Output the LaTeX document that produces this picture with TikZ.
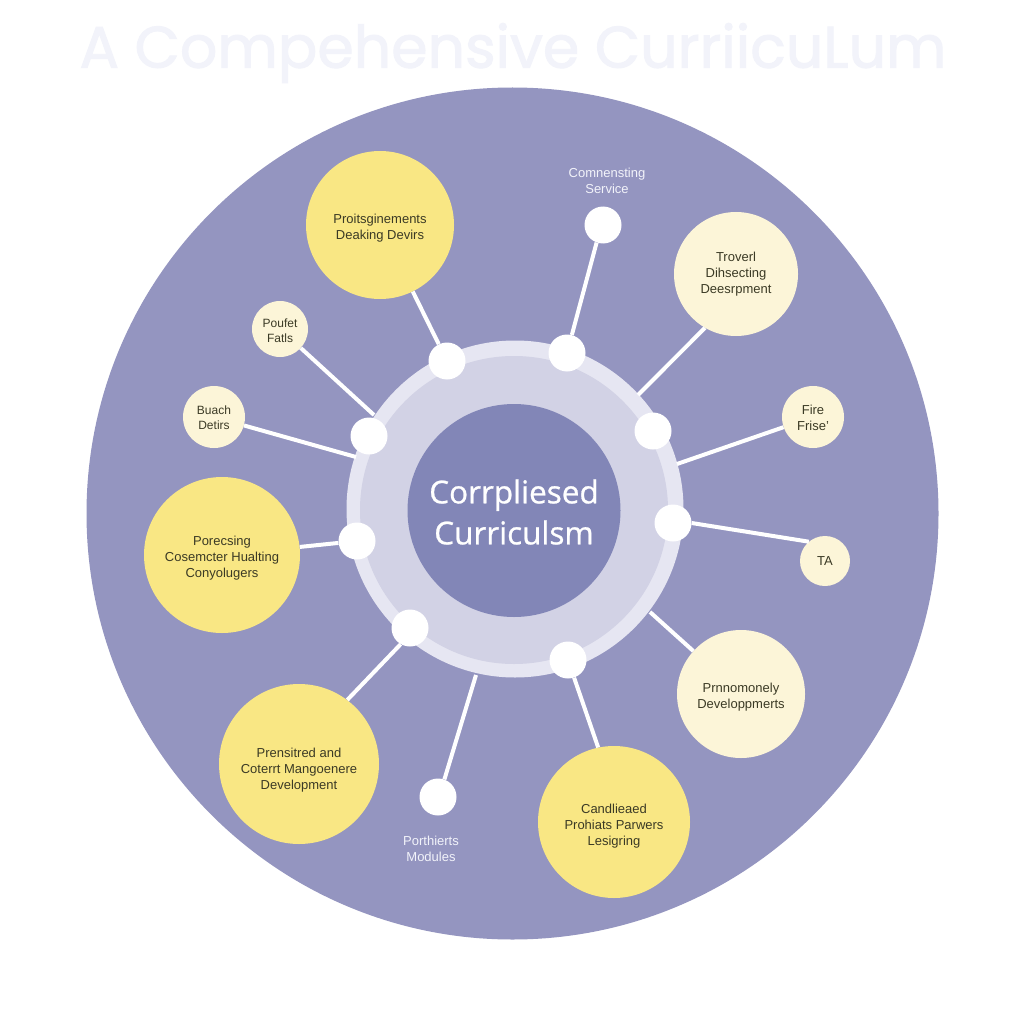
\documentclass[tikz,border=0pt]{standalone}
\usepackage{fontspec}
\setmainfont{Liberation Sans}
\newfontfamily\titlefont[FakeBold=1.6]{Poppins}
\newfontfamily\hubfont[FakeBold=0.8]{Open Sans}
\newcommand{\pushtext}[1]{\rule{0pt}{#1}}
\definecolor{discbg}{HTML}{9495C0}
\definecolor{hubcol}{HTML}{8286B7}
\definecolor{ringout}{HTML}{E6E6F2}
\definecolor{ringin}{HTML}{D2D2E5}
\definecolor{bigyellow}{HTML}{F9E784}
\definecolor{paleyellow}{HTML}{FCF5D8}
\definecolor{titlecol}{HTML}{F2F3FA}
\definecolor{labelcol}{HTML}{3B3A25}
\tikzset{
	topic/.style={circle, inner sep=0pt, align=center, text=labelcol, font=\fontsize{13}{16}\selectfont},
	bigtopic/.style={topic, fill=bigyellow},
	paletopic/.style={topic, fill=paleyellow},
	joint/.style={circle, fill=white, inner sep=0pt, minimum size=37pt},
	spoke/.style={draw=white, line width=4pt},
	whitelabel/.style={align=center, text=titlecol, font=\fontsize{13}{16}\selectfont}
}
\begin{document}
\begin{tikzpicture}[x=1pt, y=-1pt]
	\useasboundingbox (0,0) rectangle (1024,1024);
	\fill[white] (0,0) rectangle (1024,1024);
	
	\node[text=titlecol, font=\titlefont\fontsize{58.6}{66}\selectfont] (title) at (513,53) {A Compehensive CurriicuLum};
	
	\fill[discbg] (512.5,513.5) circle[radius=426];
	\fill[ringout] (515,509) circle[radius=168.5];
	\fill[ringin] (514,510) circle[radius=154];
	
	\node[circle, fill=hubcol, inner sep=0pt, minimum size=213pt, align=center, text=white, font=\hubfont\fontsize{31.5}{41}\selectfont] (hub) at (514,510.5) {\pushtext{27pt}Corrpliesed\\Curriculsm};
	
	% joints on the ring
	\node[joint] (j1) at (447,361) {};
	\node[joint] (j2) at (567,353) {};
	\node[joint] (j3) at (653,431) {};
	\node[joint] (j4) at (673,523) {};
	\node[joint] (j5) at (568,660) {};
	\node[joint] (j6) at (410,628) {};
	\node[joint] (j7) at (357,541) {};
	\node[joint] (j8) at (369,436) {};
	
	% free joints with white labels
	\node[joint] (service) at (603,225) {};
	\node[whitelabel] (servicetext) at (607,181) {Comnensting\\Service};
	\node[joint] (modules) at (438,797) {};
	\node[whitelabel] (modulestext) at (431,849) {Porthierts\\Modules};
	
	% topics
	\node[bigtopic, minimum size=148pt] (prot) at (380,225) {\pushtext{15.5pt}Proitsginements\\Deaking Devirs};
	\node[bigtopic, minimum size=156pt] (pore) at (222,555) {\pushtext{15.5pt}Porecsing\\Cosemcter Hualting\\Conyolugers};
	\node[bigtopic, minimum size=160pt] (pren) at (299,764) {\pushtext{21.5pt}Prensitred and\\Coterrt Mangoenere\\Development};
	\node[bigtopic, minimum size=152pt] (cand) at (614,822) {\pushtext{17.5pt}Candlieaed\\Prohiats Parwers\\Lesigring};
	\node[paletopic, minimum size=124pt] (trov) at (736,274) {Troverl\\Dihsecting\\Deesrpment};
	\node[paletopic, minimum size=128pt] (pran) at (741,694) {\pushtext{15.5pt}Prnnomonely\\Developpmerts};
	\node[paletopic, minimum size=62pt] (fire) at (813,417) {\pushtext{11.5pt}Fire\\Frise'};
	\node[paletopic, minimum size=50pt] (ta) at (825,561) {TA};
	\node[paletopic, minimum size=56pt, font=\fontsize{12}{15}\selectfont] (pouf) at (280,329) {\pushtext{12pt}Poufet\\Fatls};
	\node[paletopic, minimum size=62pt, font=\fontsize{12}{15}\selectfont] (buac) at (214,417) {\pushtext{11pt}Buach\\Detirs};
	
	% free ends at the ring edge
	\coordinate (etrov) at (638,395);
	\coordinate (efire) at (677,464);
	\coordinate (epran) at (650,612);
	\coordinate (emod) at (476,675);
	\coordinate (epouf) at (374,415);
	\coordinate (ebuac) at (356,457);
	
	\draw[spoke] (j1) -- (prot);
	\draw[spoke] (j2) -- (service.250);
	\draw[spoke] (j4.0) -- (ta.130);
	\draw[spoke] (j5) -- (cand.102);
	\draw[spoke] (j6.240) -- (pren.53);
	\draw[spoke] (j7) -- (pore);
	\draw[spoke] (etrov) -- (trov.240);
	\draw[spoke] (efire) -- (fire);
	\draw[spoke] (epran) -- (pran);
	\draw[spoke] (emod) -- (modules.70);
	\draw[spoke] (epouf) -- (pouf);
	\draw[spoke] (ebuac) -- (buac);
\end{tikzpicture}
\end{document}
